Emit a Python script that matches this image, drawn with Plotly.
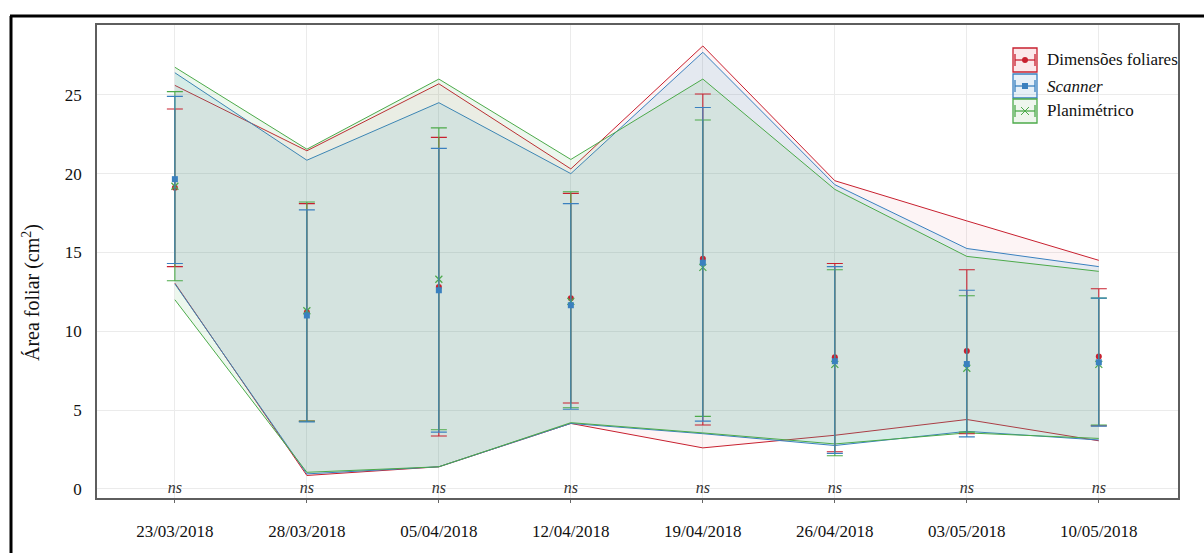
import plotly.graph_objects as go

dates = ["23/03/2018", "28/03/2018", "05/04/2018", "12/04/2018",
         "19/04/2018", "26/04/2018", "03/05/2018", "10/05/2018"]
series_names = ["Dimensões foliares", "Scanner", "Planimétrico"]

# means
mean_dim = [19.1, 11.2, 12.8, 12.1, 14.6, 8.35, 8.75, 8.4]
mean_scan = [19.65, 11.0, 12.6, 11.65, 14.35, 8.1, 7.92, 8.03]
mean_plan = [19.2, 11.3, 13.3, 11.9, 14.05, 7.9, 7.65, 7.9]

# error bar upper / lower ends
up_dim = [24.1, 18.1, 22.3, 18.75, 25.05, 14.3, 13.9, 12.7]
up_scan = [24.9, 17.7, 21.6, 18.1, 24.2, 14.1, 12.6, 12.1]
up_plan = [25.2, 18.2, 22.9, 18.85, 23.4, 13.9, 12.25, 12.1]
lo_dim = [14.1, 4.3, 3.35, 5.45, 4.05, 2.35, 3.5, 4.0]
lo_scan = [14.3, 4.25, 3.6, 5.05, 4.3, 2.25, 3.3, 3.98]
lo_plan = [13.2, 4.3, 3.75, 5.15, 4.6, 2.1, 3.6, 4.05]

# ribbon (max / min) bounds
max_dim = [25.6, 21.45, 25.7, 20.3, 28.1, 19.55, 17.0, 14.5]
max_scan = [26.4, 20.85, 24.5, 20.0, 27.7, 19.3, 15.25, 14.1]
max_plan = [26.75, 21.55, 26.0, 20.9, 26.0, 19.0, 14.75, 13.8]
min_dim = [13.05, 0.85, 1.4, 4.15, 2.6, 3.4, 4.4, 3.05]
min_scan = [13.0, 0.95, 1.4, 4.15, 3.5, 2.75, 3.65, 3.1]
min_plan = [12.0, 1.05, 1.4, 4.2, 3.55, 2.85, 3.55, 3.2]

sig_labels = ["ns"] * 8
y_ticks = [0, 5, 10, 15, 20, 25]

FONT = "Liberation Serif"
colors = {"dim": "#c8202f", "scan": "#3a80bf", "plan": "#4caa4a"}
fills = {"dim": "rgba(225,40,60,0.05)", "scan": "rgba(60,160,210,0.13)",
         "plan": "rgba(80,180,90,0.11)"}
legend_fills = {"dim": "rgba(220,30,45,0.10)", "scan": "rgba(60,140,200,0.13)",
                "plan": "rgba(90,170,80,0.10)"}

fig = go.Figure()

ribbons = [("dim", min_dim, max_dim), ("scan", min_scan, max_scan), ("plan", min_plan, max_plan)]
for key, lo, hi in ribbons:
    fig.add_trace(go.Scatter(x=dates, y=lo, mode="lines",
                             line=dict(color=colors[key], width=1), showlegend=False,
                             hoverinfo="skip"))
    fig.add_trace(go.Scatter(x=dates, y=hi, mode="lines", fill="tonexty",
                             fillcolor=fills[key],
                             line=dict(color=colors[key], width=1), showlegend=False,
                             hoverinfo="skip"))

points = [
    ("dim", mean_dim, up_dim, lo_dim, dict(symbol="circle", size=6)),
    ("plan", mean_plan, up_plan, lo_plan, dict(symbol="x-thin", size=7, line=dict(width=1.2))),
    ("scan", mean_scan, up_scan, lo_scan, dict(symbol="square", size=6)),
]
names = {"dim": series_names[0], "scan": series_names[1], "plan": series_names[2]}
for key, m, u, l, mk in points:
    mk = dict(mk)
    mk["color"] = colors[key]
    if "line" in mk:
        mk["line"]["color"] = colors[key]
    fig.add_trace(go.Scatter(
        x=dates, y=m, mode="markers", name=names[key], marker=mk, showlegend=False,
        error_y=dict(type="data", symmetric=False,
                     array=[a - b for a, b in zip(u, m)],
                     arrayminus=[b - a for a, b in zip(l, m)],
                     color=colors[key], thickness=1.1, width=8)))

# significance labels
fig.add_trace(go.Scatter(x=dates, y=[0] * len(dates), mode="text", text=sig_labels,
                         textfont=dict(family=FONT, size=16, color="#333333",
                                       style="italic"),
                         showlegend=False, hoverinfo="skip", cliponaxis=False))

# geometry helpers (pixel -> paper)
L, R, T, B = 97, 1178, 25, 498
W, H = R - L, B - T
def px(x):
    return (x - L) / W
def py(y):
    return (B - y) / H

shapes = []
annotations = []
# outer frame (top and left)
shapes.append(dict(type="line", xref="paper", yref="paper", x0=px(10), x1=px(1204),
                   y0=py(16), y1=py(16), line=dict(color="black", width=3)))
shapes.append(dict(type="line", xref="paper", yref="paper", x0=px(11), x1=px(11),
                   y0=py(16), y1=py(553), line=dict(color="black", width=3)))

# manual legend
leg_items = [("dim", series_names[0], 60), ("scan", "<i>" + series_names[1] + "</i>", 86),
             ("plan", series_names[2], 111)]
bx0, bx1 = 1013, 1037
for key, label, cy in leg_items:
    c = colors[key]
    shapes.append(dict(type="rect", xref="paper", yref="paper", x0=px(bx0), x1=px(bx1),
                       y0=py(cy + 12), y1=py(cy - 12), line=dict(color=c, width=1.3),
                       fillcolor=legend_fills[key]))
    shapes.append(dict(type="line", xref="paper", yref="paper", x0=px(bx0 + 2), x1=px(bx1 - 2),
                       y0=py(cy), y1=py(cy), line=dict(color=c, width=1.3)))
    for ex in (bx0 + 2, bx1 - 2):
        shapes.append(dict(type="line", xref="paper", yref="paper", x0=px(ex), x1=px(ex),
                           y0=py(cy - 6), y1=py(cy + 6), line=dict(color=c, width=1.3)))
    mx = (bx0 + bx1) / 2
    if key == "dim":
        shapes.append(dict(type="circle", xref="paper", yref="paper", x0=px(mx - 3), x1=px(mx + 3),
                           y0=py(cy + 3), y1=py(cy - 3), fillcolor=c, line=dict(color=c, width=0)))
    elif key == "scan":
        shapes.append(dict(type="rect", xref="paper", yref="paper", x0=px(mx - 3), x1=px(mx + 3),
                           y0=py(cy + 3), y1=py(cy - 3), fillcolor=c, line=dict(color=c, width=0)))
    else:
        for s in (1, -1):
            shapes.append(dict(type="line", xref="paper", yref="paper", x0=px(mx - 4), x1=px(mx + 4),
                               y0=py(cy - 4 * s), y1=py(cy + 4 * s), line=dict(color=c, width=1)))
    annotations.append(dict(xref="paper", yref="paper", x=px(1045), y=py(cy), text=label,
                            showarrow=False, xanchor="left", yanchor="middle",
                            font=dict(family=FONT, size=17, color="#111111")))

# y-axis title
annotations.append(dict(xref="paper", yref="paper", x=px(31), y=py(293),
                        text="Área foliar (cm<sup>2</sup>)", textangle=-90, showarrow=False,
                        xanchor="center", yanchor="middle",
                        font=dict(family=FONT, size=20, color="#111111")))

fig.update_layout(
    width=1204, height=553,
    margin=dict(l=L, r=1204 - R, t=T, b=553 - B),
    paper_bgcolor="white", plot_bgcolor="white",
    showlegend=False,
    shapes=shapes, annotations=annotations,
    font=dict(family=FONT, size=17, color="#111111"),
)
fig.update_xaxes(type="category", range=[-0.59, 7.6], showgrid=True, gridcolor="#ebebeb",
                 gridwidth=1, showline=True, mirror=True, linecolor="#5e5e5e", linewidth=1.5,
                 ticks="outside", ticklen=3, tickcolor="#666666", ticklabelstandoff=14,
                 tickfont=dict(family=FONT, size=17, color="#111111"), zeroline=False)
fig.update_yaxes(range=[-0.58, 29.43], tickvals=y_ticks, showgrid=True, gridcolor="#ebebeb",
                 gridwidth=1, showline=True, mirror=True, linecolor="#5e5e5e", linewidth=1.5,
                 ticks="", ticklabelstandoff=10, zeroline=False,
                 tickfont=dict(family=FONT, size=17, color="#111111"))

fig.write_html("out.html")
